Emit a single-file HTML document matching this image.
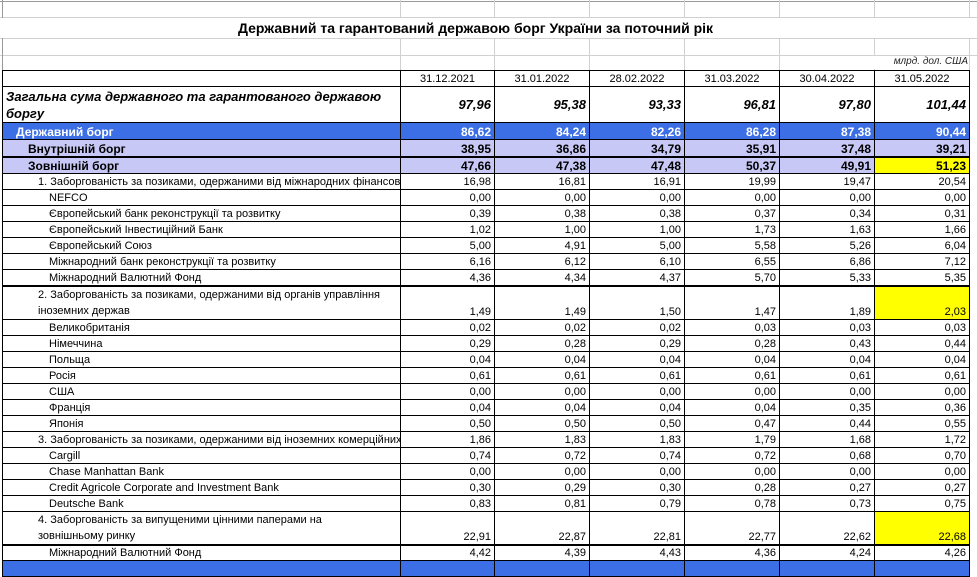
<!DOCTYPE html>
<html><head><meta charset="utf-8">
<style>
body{margin:0;width:977px;height:565px;overflow:hidden;background:#fff;font-family:"Liberation Sans","DejaVu Sans",sans-serif;position:relative}
.g{position:absolute;background:#d0d0d0}
table{position:absolute;left:2px;top:70px;width:967px;border-collapse:collapse;table-layout:fixed;font-size:11px;color:#000}
td{border:1px solid #000;padding:0 3px;white-space:nowrap;overflow:hidden;text-align:right;vertical-align:bottom;line-height:14px}
td.l{text-align:left}
tr.h td{text-align:center;vertical-align:middle}
tr.t td{font-size:13px;font-weight:bold;font-style:italic;vertical-align:middle}
tr.b td{background:#3c6fe6;color:#fff;font-weight:bold;font-size:12px}
tr.v td{background:#c8c8f6;font-weight:bold;font-size:12px}
.y{background:#ffff00!important}
tr.tk td{border-bottom:2px solid #000}
</style></head><body>
<div class="g" style="left:0;top:1px;width:977px;height:1px;background:#999"></div>
<div class="g" style="left:0;top:17px;width:977px;height:1px"></div>
<div class="g" style="left:0;top:38px;width:977px;height:1px"></div>
<div class="g" style="left:0;top:55px;width:977px;height:1px"></div>
<div class="g" style="left:2px;top:0;width:1px;height:565px;background:#999"></div>
<div class="g" style="left:400px;top:0;width:1px;height:70px"></div>
<div class="g" style="left:494px;top:0;width:1px;height:70px"></div>
<div class="g" style="left:589px;top:0;width:1px;height:70px"></div>
<div class="g" style="left:684px;top:0;width:1px;height:70px"></div>
<div class="g" style="left:779px;top:0;width:1px;height:70px"></div>
<div class="g" style="left:874px;top:0;width:1px;height:70px"></div>
<div class="g" style="left:969px;top:0;width:1px;height:565px"></div>
<div style="position:absolute;left:0;top:18px;width:977px;height:20px;background:#fff"></div>
<div style="position:absolute;left:238px;top:20px;font-weight:bold;font-size:14px;white-space:nowrap">Державний та гарантований державою борг України за поточний рік</div>
<div style="position:absolute;left:874px;top:56px;width:94px;height:13px;background:#fff;font-size:10px;font-style:italic;text-align:right;color:#222">млрд. дол. США</div>
<table>
<colgroup><col style="width:398px"><col style="width:94px"><col style="width:95px"><col style="width:95px"><col style="width:95px"><col style="width:95px"><col style="width:95px"></colgroup>
<tr class="h" style="height:16px"><td></td><td>31.12.2021</td><td>31.01.2022</td><td>28.02.2022</td><td>31.03.2022</td><td>30.04.2022</td><td>31.05.2022</td></tr>
<tr class="t" style="height:36px"><td class="l" style="white-space:normal;line-height:17px">Загальна сума державного та гарантованого державою боргу</td><td>97,96</td><td>95,38</td><td>93,33</td><td>96,81</td><td>97,80</td><td>101,44</td></tr>
<tr class="b" style="height:17px"><td class="l" style="padding-left:13px">Державний борг</td><td>86,62</td><td>84,24</td><td>82,26</td><td>86,28</td><td>87,38</td><td>90,44</td></tr>
<tr class="v tk" style="height:17px"><td class="l" style="padding-left:25px">Внутрішній борг</td><td>38,95</td><td>36,86</td><td>34,79</td><td>35,91</td><td>37,48</td><td>39,21</td></tr>
<tr class="v" style="height:17px"><td class="l" style="padding-left:25px">Зовнішній борг</td><td>47,66</td><td>47,38</td><td>47,48</td><td>50,37</td><td>49,91</td><td class="y">51,23</td></tr>
<tr style="height:16px"><td class="l" style="padding-left:35px">1. Заборгованість за позиками, одержаними від міжнародних фінансових</td><td>16,98</td><td>16,81</td><td>16,91</td><td>19,99</td><td>19,47</td><td>20,54</td></tr>
<tr style="height:16px"><td class="l" style="padding-left:46px">NEFCO</td><td>0,00</td><td>0,00</td><td>0,00</td><td>0,00</td><td>0,00</td><td>0,00</td></tr>
<tr style="height:16px"><td class="l" style="padding-left:46px">Європейський банк реконструкції та розвитку</td><td>0,39</td><td>0,38</td><td>0,38</td><td>0,37</td><td>0,34</td><td>0,31</td></tr>
<tr style="height:16px"><td class="l" style="padding-left:46px">Європейський Інвестиційний Банк</td><td>1,02</td><td>1,00</td><td>1,00</td><td>1,73</td><td>1,63</td><td>1,66</td></tr>
<tr style="height:16px"><td class="l" style="padding-left:46px">Європейський Союз</td><td>5,00</td><td>4,91</td><td>5,00</td><td>5,58</td><td>5,26</td><td>6,04</td></tr>
<tr style="height:16px"><td class="l" style="padding-left:46px">Міжнародний банк реконструкції та розвитку</td><td>6,16</td><td>6,12</td><td>6,10</td><td>6,55</td><td>6,86</td><td>7,12</td></tr>
<tr class="tk" style="height:16px"><td class="l" style="padding-left:46px">Міжнародний Валютний Фонд</td><td>4,36</td><td>4,34</td><td>4,37</td><td>5,70</td><td>5,33</td><td>5,35</td></tr>
<tr style="height:33px"><td class="l" style="padding-left:35px;white-space:normal;line-height:16px">2. Заборгованість за позиками, одержаними від органів управління іноземних держав</td><td>1,49</td><td>1,49</td><td>1,50</td><td>1,47</td><td>1,89</td><td class="y">2,03</td></tr>
<tr style="height:16px"><td class="l" style="padding-left:46px">Великобританія</td><td>0,02</td><td>0,02</td><td>0,02</td><td>0,03</td><td>0,03</td><td>0,03</td></tr>
<tr style="height:16px"><td class="l" style="padding-left:46px">Німеччина</td><td>0,29</td><td>0,28</td><td>0,29</td><td>0,28</td><td>0,43</td><td>0,44</td></tr>
<tr style="height:16px"><td class="l" style="padding-left:46px">Польща</td><td>0,04</td><td>0,04</td><td>0,04</td><td>0,04</td><td>0,04</td><td>0,04</td></tr>
<tr style="height:16px"><td class="l" style="padding-left:46px">Росія</td><td>0,61</td><td>0,61</td><td>0,61</td><td>0,61</td><td>0,61</td><td>0,61</td></tr>
<tr style="height:16px"><td class="l" style="padding-left:46px">США</td><td>0,00</td><td>0,00</td><td>0,00</td><td>0,00</td><td>0,00</td><td>0,00</td></tr>
<tr style="height:16px"><td class="l" style="padding-left:46px">Франція</td><td>0,04</td><td>0,04</td><td>0,04</td><td>0,04</td><td>0,35</td><td>0,36</td></tr>
<tr style="height:16px"><td class="l" style="padding-left:46px">Японія</td><td>0,50</td><td>0,50</td><td>0,50</td><td>0,47</td><td>0,44</td><td>0,55</td></tr>
<tr style="height:16px"><td class="l" style="padding-left:35px">3. Заборгованість за позиками, одержаними від іноземних комерційних</td><td>1,86</td><td>1,83</td><td>1,83</td><td>1,79</td><td>1,68</td><td>1,72</td></tr>
<tr style="height:16px"><td class="l" style="padding-left:46px">Cargill</td><td>0,74</td><td>0,72</td><td>0,74</td><td>0,72</td><td>0,68</td><td>0,70</td></tr>
<tr style="height:16px"><td class="l" style="padding-left:46px">Chase Manhattan Bank</td><td>0,00</td><td>0,00</td><td>0,00</td><td>0,00</td><td>0,00</td><td>0,00</td></tr>
<tr style="height:16px"><td class="l" style="padding-left:46px">Credit Agricole Corporate and Investment Bank</td><td>0,30</td><td>0,29</td><td>0,30</td><td>0,28</td><td>0,27</td><td>0,27</td></tr>
<tr style="height:16px"><td class="l" style="padding-left:46px">Deutsche Bank</td><td>0,83</td><td>0,81</td><td>0,79</td><td>0,78</td><td>0,73</td><td>0,75</td></tr>
<tr class="tk" style="height:32px"><td class="l" style="padding-left:35px;white-space:normal;line-height:16px">4. Заборгованість за випущеними цінними паперами на<br>зовнішньому ринку</td><td>22,91</td><td>22,87</td><td>22,81</td><td>22,77</td><td>22,62</td><td class="y">22,68</td></tr>
<tr style="height:16px"><td class="l" style="padding-left:46px">Міжнародний Валютний Фонд</td><td>4,42</td><td>4,39</td><td>4,43</td><td>4,36</td><td>4,24</td><td>4,26</td></tr>
<tr class="b" style="height:16px"><td></td><td></td><td></td><td></td><td></td><td></td><td></td></tr>
</table>
</body></html>
